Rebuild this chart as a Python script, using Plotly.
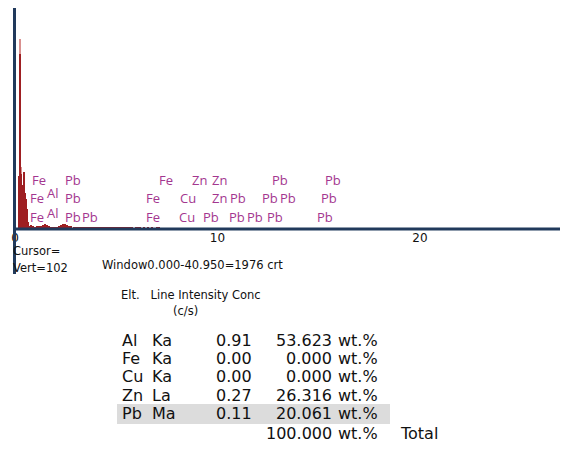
import plotly.graph_objects as go

# ---------------- data ----------------
# main spectrum (red), energy in keV, counts
red_energy = [0.20, 0.25, 0.30, 0.35, 0.40, 0.45, 0.50, 0.55, 0.60, 0.65]
red_counts = [480, 1580, 500, 400, 230, 520, 330, 270, 180, 60]
# overlay spectrum (pink)
pink_energy = [0.25, 0.30, 0.40]
pink_counts = [1720, 560, 380]
# low background counts 0.7 - 7.6 keV
bg_energy = [round(0.7 + 0.1 * i, 2) for i in range(70)]
bg_counts = [30, 35, 25, 20, 25, 30, 28, 40, 45, 35,
             25, 20, 22, 18, 20, 25, 40, 45, 42, 35,
             28, 25, 22, 20, 18, 20, 18, 15, 18, 20,
             15, 18, 15, 12, 15, 18, 14, 12, 15, 12,
             10, 12, 15, 12, 10, 12, 10, 15, 12, 10,
             12, 10, 8, 10, 12, 10, 8, 10, 8, 10,
             8, 10, 8, 12, 10, 8, 6, 8, 6, 5]

# peak labels: (element, energy keV, row)   row 1 = top
peak_labels = [
    ("Fe", 0.74, 1), ("Pb", 2.37, 1), ("Fe", 7.01, 1), ("Zn", 8.64, 1),
    ("Zn", 9.63, 1), ("Pb", 12.59, 1), ("Pb", 15.21, 1),
    ("Fe", 0.64, 2), ("Al", 1.48, 2.25), ("Pb", 2.37, 2), ("Fe", 6.37, 2),
    ("Cu", 8.05, 2), ("Zn", 9.63, 2), ("Pb", 10.52, 2), ("Pb", 12.10, 2),
    ("Pb", 12.99, 2), ("Pb", 15.01, 2),
    ("Fe", 0.64, 3), ("Al", 1.48, 3.2), ("Pb", 2.37, 3), ("Pb", 3.21, 3),
    ("Fe", 6.37, 3), ("Cu", 8.00, 3), ("Pb", 9.19, 3), ("Pb", 10.47, 3),
    ("Pb", 11.36, 3), ("Pb", 12.35, 3), ("Pb", 14.81, 3),
]
row_counts = {1: 441, 2: 279, 2.25: 324, 3: 108, 3.2: 144}

x_ticks = [0, 10, 20]

elements = ["Al", "Fe", "Cu", "Zn", "Pb"]
lines = ["Ka", "Ka", "Ka", "La", "Ma"]
intensities = ["0.91", "0.00", "0.00", "0.27", "0.11"]
concs = ["53.623", "0.000", "0.000", "26.316", "20.061"]
total_conc = "100.000"

# ---------------- layout helpers (page pixel coords) ----------------
OFF = 8                 # page body margin
PW, PH = 568, 462       # page size
W, H = PW - OFF, PH - OFF
PL, PR, PT, PB = 15, 568, 8, 229   # plot area in page pixels


def px(x):
    return (x - PL) / (PR - PL)


def py(y):
    return (PB - y) / (PB - PT)


navy = "#213a5c"
purple = "#a3368f"
dark_red = "#9e1f22"
pink = "#d9908f"

fig = go.Figure()
fig.add_trace(go.Bar(x=bg_energy, y=bg_counts, width=0.07,
                     marker=dict(color=dark_red, line=dict(width=0))))
fig.add_trace(go.Bar(x=pink_energy, y=pink_counts, width=0.06,
                     marker=dict(color=pink, line=dict(width=0))))
fig.add_trace(go.Bar(x=red_energy, y=red_counts, width=0.06,
                     marker=dict(color=dark_red, line=dict(width=0))))

annotations = []
for el, e, row in peak_labels:
    annotations.append(dict(x=e, y=row_counts[row], xref="x", yref="y",
                            text=el, showarrow=False, xanchor="left",
                            yanchor="middle",
                            font=dict(family="Open Sans", size=13, color=purple)))


def add_text(x, y, text, size=11, xanchor="left"):
    annotations.append(dict(x=px(x), y=py(y), xref="paper", yref="paper",
                            text=text, showarrow=False, xanchor=xanchor,
                            yanchor="middle",
                            font=dict(family="DejaVu Sans", size=size,
                                      color="#111111")))


add_text(11, 251, "Cursor=", 11.5)
add_text(11, 268, "Vert=102", 11.5)
add_text(100, 265, "Window0.000-40.950=1976 crt", 11.5)
add_text(119, 295, "Elt.&nbsp;&nbsp;&nbsp;Line Intensity Conc", 11.5)
add_text(185, 311, "(c/s)", 11.5, "center")

TS = 16
row_y = [340, 358.5, 377, 395.5, 413.5]
for i in range(len(elements)):
    y = row_y[i]
    add_text(120, y, elements[i], TS)
    add_text(150, y, lines[i], TS)
    add_text(254, y, intensities[i], TS, "right")
    add_text(334, y, concs[i], TS, "right")
    add_text(336, y, "wt.%", TS)
add_text(334, 433, total_conc, TS, "right")
add_text(336, 433, "wt.%", TS)
add_text(398, 433, "Total", TS)

shapes = [
    # highlight for last row
    dict(type="rect", xref="paper", yref="paper", x0=px(117), x1=px(390),
         y0=py(424), y1=py(404), fillcolor="#dcdcdc", line=dict(width=0),
         layer="below"),
    # x axis line
    dict(type="line", xref="paper", yref="paper", x0=px(13), x1=px(568),
         y0=py(229), y1=py(229), line=dict(color=navy, width=3)),
    # y axis line
    dict(type="line", xref="paper", yref="paper", x0=px(14.5), x1=px(14.5),
         y0=py(8), y1=py(274), line=dict(color=navy, width=3)),
]

fig.update_layout(
    width=W, height=H,
    margin=dict(l=PL - OFF, r=PW - PR, t=PT - OFF, b=PH - PB),
    paper_bgcolor="white", plot_bgcolor="white",
    showlegend=False, barmode="overlay", bargap=0,
    xaxis=dict(range=[0, (PR - PL) / 20.25], tickvals=x_ticks,
               ticktext=[str(t) for t in x_ticks], showgrid=False,
               zeroline=False, showline=False, ticks="",
               tickfont=dict(family="DejaVu Sans", size=12, color="#111111")),
    yaxis=dict(range=[0, 2000], showgrid=False, zeroline=False,
               showline=False, showticklabels=False, ticks=""),
    annotations=annotations, shapes=shapes,
)

fig.write_html("out.html")
